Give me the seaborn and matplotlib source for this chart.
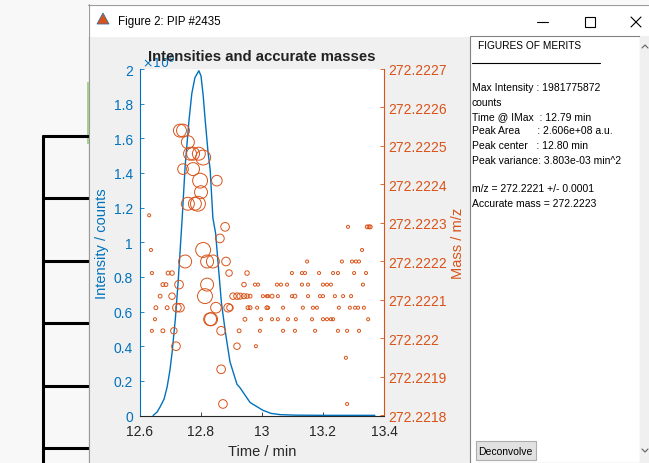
import seaborn as sns
import matplotlib.pyplot as plt
from matplotlib.patches import Rectangle, Polygon
from matplotlib.lines import Line2D
from matplotlib.ticker import FuncFormatter

W, H = 649, 464
BLUE = '#0072BD'
ORANGE = '#D95319'

# chromatogram (time / min, intensity in 1e9 counts)
trace_time = [12.643, 12.656, 12.666, 12.679, 12.689, 12.698, 12.705, 12.716, 12.725,
              12.734, 12.738, 12.748, 12.761, 12.770, 12.780, 12.793, 12.800, 12.807,
              12.813, 12.823, 12.830, 12.839, 12.848, 12.856, 12.867, 12.880, 12.895,
              12.918, 12.928, 12.961, 13.003, 13.030, 13.060, 13.110, 13.200, 13.300, 13.370]
trace_int = [0.0, 0.02, 0.05, 0.095, 0.165, 0.26, 0.36, 0.56, 0.77,
             1.02, 1.13, 1.44, 1.71, 1.86, 1.95, 1.99, 1.96, 1.85,
             1.72, 1.52, 1.42, 1.14, 1.05, 0.88, 0.65, 0.48, 0.31,
             0.18, 0.16, 0.075, 0.03, 0.012, 0.005, 0.002, 0.001, 0.001, 0.001]

# individual scans: time, accurate mass, intensity (1e9 counts)
scan_time = [12.731, 12.741, 12.757, 12.764, 12.774, 12.793, 12.807, 12.741, 12.774,
             12.797, 12.852, 12.800, 12.757, 12.780, 12.790, 12.630, 12.879, 12.862,
             13.282, 13.345, 13.351, 13.355,
             12.636, 12.807, 13.328,
             12.748, 12.820, 12.839, 12.882, 13.148, 13.262, 13.295, 13.308, 13.318,
             12.639, 12.692, 12.705, 12.892, 12.951, 13.098, 13.131, 13.141, 13.187,
             13.233, 13.249, 13.302, 13.341,
             12.675, 12.685, 12.728, 12.820, 12.941, 12.977, 12.987, 13.049, 13.062,
             13.082, 13.131, 13.151, 13.200, 13.213, 13.226, 13.331,
             12.666, 12.705, 12.813, 12.905, 12.918, 12.928, 12.941, 12.951, 12.961,
             13.003, 13.016, 13.020, 13.033, 13.052, 13.098, 13.108, 13.151, 13.190,
             13.200, 13.239, 13.266, 13.292,
             12.652, 12.689, 12.721, 12.731, 12.849, 12.889, 12.895, 12.954, 12.961,
             12.984, 13.016, 13.020, 13.069, 13.134, 13.167, 13.180, 13.252, 13.288,
             13.305, 13.315, 13.334,
             12.649, 12.830, 12.833, 12.944, 12.997, 13.033, 13.052, 13.085, 13.111,
             13.164, 13.200, 13.213, 13.226, 13.233, 13.348,
             12.639, 12.675, 12.711, 12.866, 12.925, 12.993, 13.069, 13.108, 13.174,
             13.249, 13.279, 13.318,
             12.718, 12.918, 12.980, 13.275, 12.866, 12.872, 13.279]
scan_mass = [272.22254, 272.22254, 272.22251, 272.22248, 272.22248, 272.22248, 272.22247,
             272.22244, 272.22244, 272.22241, 272.22241, 272.22238, 272.22235, 272.22235,
             272.22235, 272.22232, 272.22229, 272.22226,
             272.22229, 272.22229, 272.22229, 272.22229,
             272.22223, 272.22223, 272.22223] + \
            [272.22220] * 9 + [272.22217] * 13 + [272.22214] * 16 + [272.22211] * 22 + \
            [272.22208] * 21 + [272.22205] * 15 + [272.22202] * 12 + \
            [272.22198, 272.22198, 272.22198, 272.22195, 272.22192, 272.22183, 272.22183]
scan_int = [1.5, 1.5, 1.5, 1.5, 1.5, 1.5, 2.0, 1.0, 1.5,
            2.0, 1.0, 1.5, 1.5, 1.5, 2.0, 0.05, 0.65, 0.65,
            0.05, 0.1, 0.1, 0.1,
            0.05, 2.0, 0.05,
            1.5, 1.5, 1.5, 0.65, 0.05, 0.05, 0.05, 0.05, 0.05,
            0.05, 0.1, 0.15, 0.35, 0.15, 0.05, 0.05, 0.05, 0.05,
            0.05, 0.05, 0.05, 0.05,
            0.1, 0.1, 0.65, 1.5, 0.15, 0.05, 0.05, 0.05, 0.05,
            0.05, 0.05, 0.05, 0.05, 0.05, 0.05, 0.05,
            0.1, 0.35, 2.0, 0.35, 0.35, 0.3, 0.2, 0.15, 0.1,
            0.05, 0.05, 0.05, 0.1, 0.05, 0.05, 0.1, 0.05, 0.05,
            0.05, 0.05, 0.05, 0.05,
            0.1, 0.1, 0.65, 0.65, 1.0, 0.65, 0.35, 0.1, 0.1,
            0.05, 0.1, 0.05, 0.05, 0.05, 0.05, 0.05, 0.05, 0.05,
            0.05, 0.05, 0.05,
            0.05, 1.5, 1.5, 0.1, 0.05, 0.05, 0.05, 0.05, 0.05,
            0.05, 0.05, 0.05, 0.05, 0.05, 0.05,
            0.05, 0.1, 0.35, 0.65, 0.1, 0.05, 0.05, 0.05, 0.05,
            0.05, 0.05, 0.05,
            0.65, 0.35, 0.05, 0.05, 0.65, 0.65, 0.05]

merits = ['Max Intensity : 1981775872', 'counts', 'Time @ IMax  : 12.79 min',
          'Peak Area      : 2.606e+08 a.u.', 'Peak center   : 12.80 min',
          'Peak variance: 3.803e-03 min^2', '', 'm/z = 272.2221 +/- 0.0001',
          'Accurate mass = 272.2223']

sns.set_style('white')
plt.rcParams['font.family'] = ['Liberation Sans', 'DejaVu Sans']

fig = plt.figure(figsize=(W / 100, H / 100), dpi=100, facecolor='#f0f0f0')


def box(x0, y0, x1, y1, **kw):
    fig.add_artist(Rectangle((x0 / W, 1 - y1 / H), (x1 - x0) / W, (y1 - y0) / H,
                             transform=fig.transFigure, **kw))


def line(xs, ys, **kw):
    fig.add_artist(Line2D([x / W for x in xs], [1 - y / H for y in ys],
                          transform=fig.transFigure, **kw))


def txt(x, y, s, **kw):
    fig.text(x / W, 1 - y / H, s, **kw)


# desktop behind the window
box(0, 0, 88, 464, fc='#f8f8f8', ec='none')
box(88, 0, 649, 5, fc='#f8f8f8', ec='none')
line([43, 43], [137, 464], color='black', lw=2.2)
for yy in [137, 199, 262, 324, 387, 449]:
    line([43, 88], [yy, yy], color='black', lw=2.2)
box(86.5, 83, 88.5, 145, fc='#a9d18e', ec='none')

# window frame and title bar
box(88, 5, 649, 38, fc='white', ec='none')
line([88.5, 88.5], [5, 464], color='#9a9a9a', lw=0.8)
line([88, 649], [5.5, 5.5], color='#9a9a9a', lw=0.8)
fig.add_artist(Polygon([(97 / W, 1 - 25 / H), (103 / W, 1 - 14 / H), (109 / W, 1 - 25 / H)],
                       closed=True, fc=ORANGE, ec='#3a6ea5', lw=0.6, transform=fig.transFigure))
txt(118, 22, 'Figure 2: PIP #2435', fontsize=8.3, va='center', color='black')
line([537, 548], [23, 23], color='black', lw=0.8)
box(585, 17.5, 595, 27.5, fc='none', ec='black', lw=0.8)
line([631, 641], [18, 28], color='black', lw=0.8)
line([631, 641], [28, 18], color='black', lw=0.8)

# side panel
box(470, 37, 640, 464, fc='white', ec='#828282', lw=0.8)
box(640, 37, 649, 464, fc='#f0f0f0', ec='none')
line([642, 645, 648], [49, 46, 49], color='#606060', lw=0.8)
line([642, 645, 648], [450, 453, 450], color='#606060', lw=0.8)
txt(478, 46, 'FIGURES OF MERITS', fontsize=7.3, va='center', color='black')
line([472, 600], [64, 64], color='black', lw=0.8)
for i, s in enumerate(merits):
    txt(472, 88 + i * 14.5, s, fontsize=7.5, va='center', color='black')
box(476, 442, 536, 461, fc='#e1e1e1', ec='#adadad', lw=0.8)
txt(478, 452, 'Deconvolve', fontsize=7.5, va='center', color='black')

# main axes
ax = fig.add_axes([140 / W, 1 - 416.5 / H, 244 / W, 346.5 / H])
ax.set_facecolor('white')
sns.lineplot(x=trace_time, y=trace_int, ax=ax, color=BLUE, linewidth=1.0)
ax.set_xlim(12.6, 13.4)
ax.set_ylim(0, 2)
ax.set_xticks([12.6, 12.8, 13.0, 13.2, 13.4])
ax.set_yticks([0, 0.2, 0.4, 0.6, 0.8, 1.0, 1.2, 1.4, 1.6, 1.8, 2.0])
ax.xaxis.set_major_formatter(FuncFormatter(lambda v, _: f'{v:g}'))
ax.yaxis.set_major_formatter(FuncFormatter(lambda v, _: f'{v:g}'))
ax.tick_params(axis='x', direction='in', length=3, width=0.6, colors='#262626',
               labelsize=10, pad=6, bottom=True)
ax.tick_params(axis='y', direction='in', length=3, width=0.6, colors=BLUE,
               labelsize=10, pad=5, left=True)
for side in ['top', 'right']:
    ax.spines[side].set_visible(False)
ax.spines['left'].set_color(BLUE)
ax.spines['bottom'].set_color('#262626')
ax.spines['left'].set_linewidth(0.8)
ax.spines['bottom'].set_linewidth(0.8)
ax.set_xlabel('Time / min', fontsize=10.5, color='#262626')
ax.set_ylabel('Intensity / counts', fontsize=10.5, color=BLUE)
ax.xaxis.set_label_coords(0.5, -0.082)
ax.yaxis.set_label_coords(-0.127, 0.5)

ax2 = ax.twinx()
sns.scatterplot(x=scan_time, y=scan_mass, size=scan_int, sizes=(2, 115),
                size_norm=(0, 2), ax=ax2, legend=False, marker='o')
pts = ax2.collections[-1]
pts.set_facecolor('none')
pts.set_edgecolor(ORANGE)
pts.set_linewidth(0.7)
ax2.set_ylim(272.2218, 272.2227)
ax2.set_yticks([272.2218 + i * 0.0001 for i in range(10)])
ax2.yaxis.set_major_formatter(FuncFormatter(lambda v, _: f'{v:.4f}'.rstrip('0')))
ax2.tick_params(axis='y', direction='in', length=3, width=0.6, colors=ORANGE,
                labelsize=10, pad=3, right=True)
for side in ['top', 'left', 'bottom']:
    ax2.spines[side].set_visible(False)
ax2.spines['right'].set_color(ORANGE)
ax2.spines['right'].set_linewidth(0.8)
ax2.set_ylabel('Mass / m/z', fontsize=10.5, color=ORANGE)
ax2.yaxis.set_label_coords(1.275, 0.5)
ax2.set_xlim(12.6, 13.4)

txt(142, 63, r'$\times10^{9}$', fontsize=9, color=BLUE, va='center')
txt(262, 57, 'Intensities and accurate masses', fontsize=10.7, fontweight='bold',
    ha='center', va='center', color='#222222')

fig.savefig('out.png', dpi=100, facecolor=fig.get_facecolor())
